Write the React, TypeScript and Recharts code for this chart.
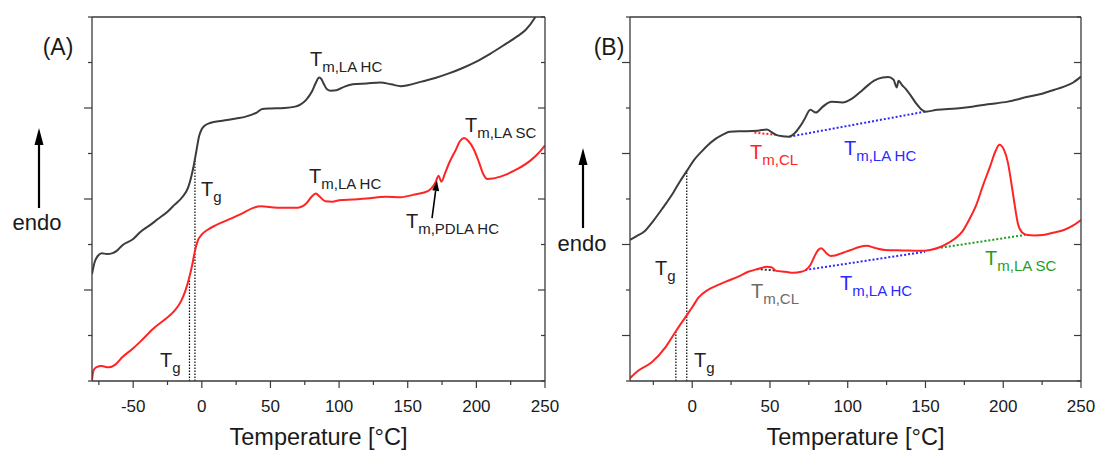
import React from 'react';
import { LineChart, Line, XAxis, YAxis, ReferenceLine, ReferenceDot, Label } from 'recharts';

const FONT = 'Arial, "Liberation Sans", Helvetica, sans-serif';
const AXIS = '#3a3a3a';
const BLACK = '#3c3c3c';
const RED = '#ff2424';
const BLUE = '#2a2aff';
const GREEN = '#1f9e1f';
const GRAY = '#6a6a6a';

// ---------- Panel A ----------
const tempBlackA = [-80,-78,-76,-73,-69,-65,-62,-58,-50,-45,-38,-32,-25,-20,-14,-10,-8,-6,-4,-2,0,2,6,15,25,32,40,44,50,60,68,72,76,80,83,85.5,87,89,91,94,98,104,110,120,130,138,145,150,160,170,180,190,200,210,220,230,236,243,250];
const heatBlackA = [2.35,2.62,2.74,2.81,2.79,2.81,2.86,2.98,3.12,3.27,3.42,3.56,3.72,3.87,4.05,4.25,4.45,4.72,5.05,5.38,5.54,5.61,5.67,5.72,5.77,5.81,5.90,5.98,5.99,6.00,6.03,6.08,6.18,6.35,6.55,6.67,6.64,6.52,6.42,6.38,6.39,6.47,6.52,6.54,6.56,6.52,6.48,6.50,6.58,6.66,6.76,6.88,7.02,7.19,7.38,7.58,7.72,8.0,8.4];
const tempRedA = [-80,-79,-77,-73,-68,-63,-58,-50,-45,-35,-27,-20,-15,-12,-9,-7,-5,-3,0,4,10,19,28,37,43,55,70,76,80,83,86,90,95,100,110,120,134,145,155,165,170,172.5,174.5,177,180,185,188,191,194,198,202,205,208,212,220,230,240,245,250];
const heatRedA = [0.02,0.22,0.30,0.33,0.30,0.36,0.52,0.72,0.86,1.16,1.35,1.54,1.76,1.98,2.29,2.55,2.86,3.08,3.22,3.32,3.42,3.54,3.66,3.80,3.84,3.81,3.81,3.90,4.05,4.12,4.05,3.95,3.94,3.97,3.99,4.01,4.05,4.04,4.10,4.18,4.35,4.51,4.38,4.55,4.78,5.08,5.27,5.34,5.28,5.10,4.80,4.55,4.44,4.45,4.52,4.66,4.86,5.0,5.18];
const xDomainA = [-80, 250];
const xTicksA = [-75,-50,-25,0,25,50,75,100,125,150,175,200,225,250];
const xMajorA = [-50,0,50,100,150,200,250];
const yTicks = [0,1,2,3,4,5,6,7,8];
const yMajorA = [2,4,6];
// Tg markers: [temperature, top value]
const tgA = [[-5, 4.86], [-9, 2.29]];

// ---------- Panel B ----------
const tempBlackB = [-40,-36,-31,-25,-19,-12,-8,-3,1,6,10,15,20,24,30,35,42,48,51,54,58,62,66,69,72,76,79.5,84,89.5,96.5,103,108,112,117,122.5,126,129.5,131.5,132.7,135,137,141,144,147,150,157.5,170,180,190,203,215,225.5,233,239,245,250];
const heatBlackB = [3.10,3.18,3.28,3.52,3.80,4.15,4.38,4.64,4.85,5.04,5.18,5.32,5.42,5.48,5.49,5.49,5.50,5.53,5.47,5.41,5.38,5.37,5.45,5.58,5.74,5.96,5.90,6.03,6.14,6.12,6.21,6.35,6.47,6.60,6.67,6.68,6.62,6.45,6.60,6.50,6.43,6.25,6.10,5.98,5.92,5.96,5.99,6.03,6.08,6.14,6.24,6.32,6.40,6.47,6.56,6.69];
const tempRedB = [-40,-35,-26,-17,-10,-4,0,4,10,16,22,30,36,42,48,51,54,60,65,70,73,76,78.5,81,83,86,89,92,97,102,108,112,118,124,135,146,153,160,165,169,174,178,183,187,191.5,195,197.5,200.5,203,205,207,209.5,212,215.5,220,225.5,232,239,245,250];
const heatRedB = [0.06,0.22,0.41,0.75,1.12,1.42,1.62,1.83,2.00,2.10,2.19,2.30,2.40,2.46,2.51,2.50,2.42,2.40,2.38,2.40,2.44,2.55,2.73,2.88,2.92,2.82,2.75,2.76,2.82,2.88,2.95,2.97,2.92,2.88,2.87,2.86,2.88,2.95,3.04,3.13,3.30,3.54,3.90,4.30,4.71,5.05,5.19,5.08,4.80,4.40,3.95,3.45,3.27,3.21,3.20,3.21,3.26,3.32,3.42,3.54];
const xDomainB = [-40, 250];
const xTicksB = [-25,0,25,50,75,100,125,150,175,200,225,250];
const xMajorB = [0,50,100,150,200,250];
const yMajorB = [1,3,5,7];
const tgB = [[-3.5, 4.62], [-10.5, 1.08]];
// melting baselines: [t1, v1, t2, v2]
const baseCLBlackB = [40, 5.46, 53.5, 5.41];
const baseHCBlackB = [62.5, 5.37, 149.7, 5.92];
const baseCLRedB = [41.5, 2.46, 53.5, 2.43];
const baseHCRedB = [72.7, 2.44, 149.7, 2.84];
const baseSCRedB = [159.9, 2.93, 214, 3.21];

const toRows = (ts: number[], vs: number[]) => ts.map((t, i) => ({ t, v: vs[i] }));

const BottomTick = (p: any) => {
  const major = p.major.includes(p.payload.value);
  return (
    <g>
      <line x1={p.x} x2={p.x} y1={p.y} y2={p.y + (major ? 7 : 4)} stroke={AXIS} strokeWidth={1.2} />
      {major && (
        <text x={p.x} y={p.y + 31} textAnchor="middle" fontSize={17} fill="#1a1a1a" fontFamily={FONT}>
          {p.payload.value}
        </text>
      )}
    </g>
  );
};
const TopTick = (p: any) => {
  const major = p.major.includes(p.payload.value);
  return <line x1={p.x} x2={p.x} y1={p.y} y2={p.y + (major ? 7 : 4)} stroke={AXIS} strokeWidth={1.2} />;
};
const LeftTick = (p: any) => {
  const major = p.major.includes(p.payload.value);
  return <line x1={p.x - (major ? 8 : 4)} x2={p.x} y1={p.y} y2={p.y} stroke={AXIS} strokeWidth={1.2} />;
};
const RightTick = (p: any) => {
  const major = p.major.includes(p.payload.value);
  return <line x1={p.x - (major ? 7 : 4)} x2={p.x} y1={p.y} y2={p.y} stroke={AXIS} strokeWidth={1.2} />;
};

const SubText = (main: string, sub: string, color: string) => (p: any) => (
  <text x={p.cx} y={p.cy} fill={color} fontFamily={FONT}>
    <tspan fontSize={20}>{main}</tspan>
    <tspan fontSize={15} dy={6}>{sub}</tspan>
  </text>
);

const ArrowShape = (p: any) => {
  const { x1, y1, x2, y2 } = p;
  const ang = Math.atan2(y2 - y1, x2 - x1);
  const L = 10, W = 3.5;
  const bx = x2 - L * Math.cos(ang), by = y2 - L * Math.sin(ang);
  const px = -Math.sin(ang) * W, py = Math.cos(ang) * W;
  return (
    <g>
      <line x1={x1} y1={y1} x2={bx} y2={by} stroke="#000" strokeWidth={1.6} />
      <polygon points={`${x2},${y2} ${bx + px},${by + py} ${bx - px},${by - py}`} fill="#000" />
    </g>
  );
};

type Ann = { t: number; v: number; main: string; sub: string; color: string };

const labelsA: Ann[] = [
  { t: 78.8, v: 6.92, main: 'T', sub: 'm,LA HC', color: '#222' },
  { t: -0.6, v: 4.07, main: 'T', sub: 'g', color: '#222' },
  { t: 78.1, v: 4.35, main: 'T', sub: 'm,LA HC', color: '#222' },
  { t: 191.7, v: 5.47, main: 'T', sub: 'm,LA SC', color: '#222' },
  { t: 148.7, v: 3.36, main: 'T', sub: 'm,PDLA HC', color: '#222' },
  { t: -30.5, v: 0.31, main: 'T', sub: 'g', color: '#222' },
];
const labelsB: Ann[] = [
  { t: 37.2, v: 4.88, main: 'T', sub: 'm,CL', color: RED },
  { t: 97.6, v: 4.97, main: 'T', sub: 'm,LA HC', color: BLUE },
  { t: -23.9, v: 2.33, main: 'T', sub: 'g', color: '#222' },
  { t: 1.2, v: 0.31, main: 'T', sub: 'g', color: '#222' },
  { t: 37.8, v: 1.82, main: 'T', sub: 'm,CL', color: GRAY },
  { t: 95.0, v: 2.0, main: 'T', sub: 'm,LA HC', color: BLUE },
  { t: 188.3, v: 2.55, main: 'T', sub: 'm,LA SC', color: GREEN },
];

type PanelProps = {
  width: number;
  margin: any;
  xDomain: number[];
  xTicks: number[];
  xMajor: number[];
  yMajor: number[];
  black: any[];
  red: any[];
  tg: number[][];
  baselines: { seg: number[]; color: string }[];
  labels: Ann[];
  arrows: number[][];
};

function Panel(props: PanelProps) {
  const { width, margin, xDomain, xTicks, xMajor, yMajor, black, red, tg, baselines, labels, arrows } = props;
  const axisLine = { stroke: AXIS, strokeWidth: 1.3 };
  return (
    <LineChart width={width} height={455} margin={margin}>
      <XAxis
        xAxisId="b" dataKey="t" type="number" domain={xDomain} allowDataOverflow ticks={xTicks} interval={0}
        tickSize={0} tickMargin={0} tickLine={false} axisLine={axisLine} height={30}
        tick={(p: any) => <BottomTick {...p} major={xMajor} />}
      >
        <Label value="Temperature [°C]" position="bottom" offset={17} fontSize={23.5} fill="#1a1a1a" fontFamily={FONT} />
      </XAxis>
      <XAxis
        xAxisId="t" orientation="top" type="number" domain={xDomain} allowDataOverflow ticks={xTicks} interval={0}
        tickSize={0} tickMargin={0} tickLine={false} axisLine={axisLine} height={1}
        tick={(p: any) => <TopTick {...p} major={xMajor} />}
      />
      <YAxis
        yAxisId="l" type="number" domain={[0, 8]} allowDataOverflow ticks={yTicks} interval={0}
        tickSize={0} tickMargin={0} tickLine={false} axisLine={axisLine} width={30}
        tick={(p: any) => <LeftTick {...p} major={yMajor} />}
      />
      <YAxis
        yAxisId="r" orientation="right" type="number" domain={[0, 8]} allowDataOverflow ticks={yTicks} interval={0}
        tickSize={0} tickMargin={0} tickLine={false} axisLine={axisLine} width={1}
        tick={(p: any) => <RightTick {...p} major={yMajor} />}
      />
      {tg.map(([t, v], i) => (
        <ReferenceLine key={'tg' + i} xAxisId="b" yAxisId="l" segment={[{ x: t, y: 0 }, { x: t, y: v }]}
          stroke="#000" strokeWidth={1.2} strokeDasharray="1.5 1.5" />
      ))}
      {baselines.map((b, i) => (
        <ReferenceLine key={'bl' + i} xAxisId="b" yAxisId="l" segment={[{ x: b.seg[0], y: b.seg[1] }, { x: b.seg[2], y: b.seg[3] }]}
          stroke={b.color} strokeWidth={2} strokeDasharray="2 2" />
      ))}
      <Line xAxisId="b" yAxisId="l" data={black} dataKey="v" type="monotone" stroke={BLACK} strokeWidth={2} dot={false} isAnimationActive={false} />
      <Line xAxisId="b" yAxisId="l" data={red} dataKey="v" type="monotone" stroke={RED} strokeWidth={2} dot={false} isAnimationActive={false} />
      {arrows.map((a, i) => (
        <ReferenceLine key={'ar' + i} xAxisId="b" yAxisId="l" segment={[{ x: a[0], y: a[1] }, { x: a[2], y: a[3] }]} shape={ArrowShape} />
      ))}
      {labels.map((l, i) => (
        <ReferenceDot key={'lb' + i} xAxisId="b" yAxisId="l" x={l.t} y={l.v} r={0} shape={SubText(l.main, l.sub, l.color)} />
      ))}
    </LineChart>
  );
}

const blackA = toRows(tempBlackA, heatBlackA);
const redA = toRows(tempRedA, heatRedA);
const blackB = toRows(tempBlackB, heatBlackB);
const redB = toRows(tempRedB, heatRedB);
const arrowA = [[167.7, 3.58, 171.3, 4.4]];

export default function App() {
  return (
    <div style={{ position: 'absolute', left: 0, top: 0, width: 1102, height: 455, background: '#fff', fontFamily: FONT }}>
      <div style={{ position: 'absolute', left: 0, top: 0 }}>
        <Panel
          width={580}
          margin={{ top: 16, right: 34, left: 62, bottom: 44 }}
          xDomain={xDomainA} xTicks={xTicksA} xMajor={xMajorA} yMajor={yMajorA}
          black={blackA} red={redA} tg={tgA} baselines={[]} labels={labelsA} arrows={arrowA}
        />
      </div>
      <div style={{ position: 'absolute', left: 551, top: 0 }}>
        <Panel
          width={551}
          margin={{ top: 16, right: 20, left: 49, bottom: 44 }}
          xDomain={xDomainB} xTicks={xTicksB} xMajor={xMajorB} yMajor={yMajorB}
          black={blackB} red={redB} tg={tgB}
          baselines={[
            { seg: baseCLBlackB, color: RED },
            { seg: baseHCBlackB, color: BLUE },
            { seg: baseCLRedB, color: '#333' },
            { seg: baseHCRedB, color: BLUE },
            { seg: baseSCRedB, color: GREEN },
          ]}
          labels={labelsB} arrows={[]}
        />
      </div>
      <svg width={1102} height={455} style={{ position: 'absolute', left: 0, top: 0, pointerEvents: 'none' }}>
        <text x={58} y={55} textAnchor="middle" fontSize={23} fill="#1a1a1a" fontFamily={FONT}>(A)</text>
        <text x={609} y={55} textAnchor="middle" fontSize={23} fill="#1a1a1a" fontFamily={FONT}>(B)</text>
        <line x1={39} y1={208} x2={39} y2={142} stroke="#000" strokeWidth={2.2} />
        <polygon points="39,128 34.5,145 43.5,145" fill="#000" />
        <text x={37} y={230} textAnchor="middle" fontSize={22} fill="#1a1a1a" fontFamily={FONT}>endo</text>
        <line x1={583} y1={228} x2={583} y2={162} stroke="#000" strokeWidth={2.2} />
        <polygon points="583,148 578.5,165 587.5,165" fill="#000" />
        <text x={582} y={251} textAnchor="middle" fontSize={22} fill="#1a1a1a" fontFamily={FONT}>endo</text>
      </svg>
    </div>
  );
}
